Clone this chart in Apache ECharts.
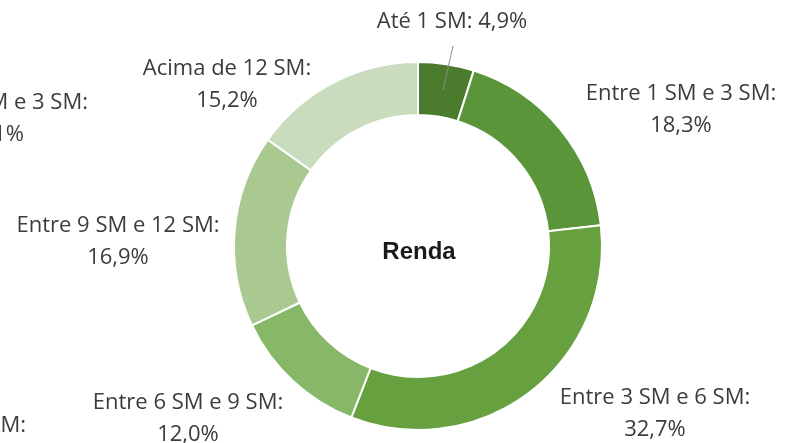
<!DOCTYPE html>
<html>
<head>
<meta charset="utf-8">
<script src="https://cdn.jsdelivr.net/npm/echarts@6/dist/echarts.min.js"></script>
<style>
  html, body { margin: 0; padding: 0; background: #fff; }
  #main { width: 800px; height: 443px; }
</style>
</head>
<body>
<div id="main"></div>
<script>
// dados
var categorias = ['Até 1 SM', 'Entre 1 SM e 3 SM', 'Entre 3 SM e 6 SM', 'Entre 6 SM e 9 SM', 'Entre 9 SM e 12 SM', 'Acima de 12 SM'];
var valores = [4.9, 18.3, 32.7, 12.0, 16.9, 15.2];
var cores = ['#4b7b2d', '#5b9539', '#66a03f', '#87b868', '#a9c991', '#c9dcbd'];

// posição dos rótulos (centro do texto)
var posRotulos = [[452, 22], [681, 110], [655, 414], [188, 419], [118, 242], [227, 85]];

var fonte = '"Open Sans"';
var chart = echarts.init(document.getElementById('main'));

var dados = categorias.map(function (c, i) {
   return {
      name: c,
      value: valores[i],
      itemStyle: { color: cores[i] }
   };
});

var option = {
   animation: false,
   title: {
      text: 'Renda',
      left: 414,
      top: 247,
      textAlign: 'center',
      textVerticalAlign: 'middle',
      textStyle: { fontFamily: 'Liberation Sans', fontWeight: 'bold', fontSize: 24, color: '#1a1a1a' }
   },
   graphic: [
      // fragmentos do gráfico vizinho, cortados na borda
      { type: 'text', x: 88, y: 103, style: { text: 'Entre 1 SM e 3 SM:', align: 'right', verticalAlign: 'middle', font: '22px ' + fonte, fill: '#3c3c3c' } },
      { type: 'text', x: 24, y: 135, style: { text: '18,1%', align: 'right', verticalAlign: 'middle', font: '22px ' + fonte, fill: '#3c3c3c' } },
      { type: 'text', x: 26, y: 426, style: { text: 'Entre 1 SM e 3 SM:', align: 'right', verticalAlign: 'middle', font: '22px ' + fonte, fill: '#3c3c3c' } },
      // linha de chamada do primeiro rótulo
      { type: 'polyline', z: 100, shape: { points: [[443, 90], [453, 46]] }, style: { stroke: '#8c8c8c', lineWidth: 1 } }
   ],
   series: [{
      name: 'Renda',
      type: 'pie',
      center: [418, 246],
      radius: [131, 184],
      startAngle: 90,
      clockwise: true,
      avoidLabelOverlap: false,
      itemStyle: { borderColor: '#fff', borderWidth: 2 },
      label: {
         show: true,
         fontFamily: fonte,
         fontSize: 22,
         color: '#3c3c3c',
         lineHeight: 32,
         align: 'center',
         formatter: function (p) {
            var v = p.value.toFixed(1).replace('.', ',') + '%';
            return p.dataIndex === 0 ? p.name + ': ' + v : p.name + ':\n' + v;
         }
      },
      labelLine: { show: false },
      labelLayout: function (params) {
         var p = posRotulos[params.dataIndex];
         return { x: p[0], y: p[1], align: 'center', verticalAlign: 'middle' };
      },
      data: dados
   }]
};

chart.setOption(option);
</script>
</body>
</html>
